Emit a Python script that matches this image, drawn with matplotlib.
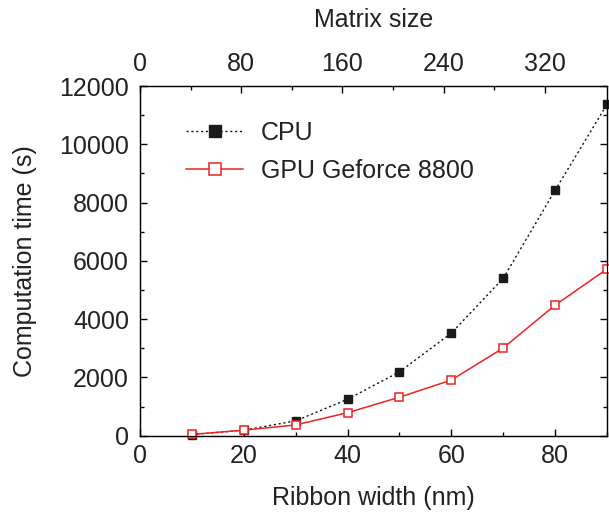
import matplotlib
matplotlib.use("Agg")
import matplotlib.pyplot as plt
from matplotlib.ticker import MultipleLocator, FixedLocator

plt.rcParams["font.family"] = ["Liberation Sans", "DejaVu Sans"]

# Ribbon width (nm) and computation time (s)
RIBBON_WIDTH = [10, 20, 30, 40, 50, 60, 70, 80, 90]
CPU_TIME = [40, 190, 510, 1250, 2190, 3520, 5400, 8420, 11370]
GPU_TIME = [45, 190, 370, 790, 1320, 1910, 3010, 4480, 5720]

TOP_TICKS = [0, 80, 160, 240, 320]
TOP_MINOR = [40, 120, 200, 280]
TOP_MAX = 369

FONT_TICK = 18
FONT_LABEL = 18
TEXT_COLOR = "#222222"

fig = plt.figure(figsize=(6.09, 5.12), dpi=100)
ax = fig.add_axes([0.2299, 0.149, 0.7668, 0.683])

ax.plot(RIBBON_WIDTH, CPU_TIME, color="#111111", linestyle=(0, (1.5, 2)), linewidth=1.0,
        marker="s", markersize=5.5, markerfacecolor="#1a1a1a", markeredgecolor="#1a1a1a",
        label="CPU", clip_on=False, zorder=3)
ax.plot(RIBBON_WIDTH, GPU_TIME, color="#ee2222", linestyle="-", linewidth=1.1,
        marker="s", markersize=5.5, markerfacecolor="white", markeredgecolor="#ee2222",
        markeredgewidth=1.1, label="GPU Geforce 8800", clip_on=False, zorder=3)

ax.set_xlim(0, 90)
ax.set_ylim(0, 12000)
ax.xaxis.set_major_locator(MultipleLocator(20))
ax.xaxis.set_minor_locator(MultipleLocator(10))
ax.yaxis.set_major_locator(MultipleLocator(2000))
ax.yaxis.set_minor_locator(MultipleLocator(1000))
ax.tick_params(which="both", direction="in", right=True, labelsize=FONT_TICK,
               width=1.0, labelcolor=TEXT_COLOR)
ax.tick_params(which="major", length=5)
ax.tick_params(which="minor", length=3)
ax.tick_params(axis="x", pad=6)
ax.tick_params(axis="y", pad=8)
for sp in ax.spines.values():
    sp.set_linewidth(1.0)
    sp.set_color(TEXT_COLOR)

ax.set_xlabel("Ribbon width (nm)", fontsize=FONT_LABEL, labelpad=13, color=TEXT_COLOR)
ax.set_ylabel("Computation time (s)", fontsize=FONT_LABEL, labelpad=16, color=TEXT_COLOR)

top = ax.twiny()
top.set_xlim(0, TOP_MAX)
top.xaxis.set_major_locator(FixedLocator(TOP_TICKS))
top.xaxis.set_minor_locator(FixedLocator(TOP_MINOR))
top.tick_params(which="both", direction="in", labelsize=FONT_TICK, width=1.0,
                pad=7, labelcolor=TEXT_COLOR)
top.tick_params(which="major", length=5)
top.tick_params(which="minor", length=3)
top.set_xlabel("Matrix size", fontsize=FONT_LABEL, labelpad=18, color=TEXT_COLOR)

leg = ax.legend(loc="upper left", bbox_to_anchor=(0.05, 0.965), frameon=False,
                fontsize=FONT_LABEL, handlelength=2.3, handletextpad=0.7,
                labelspacing=0.55, markerscale=1.5)
for t in leg.get_texts():
    t.set_color(TEXT_COLOR)

fig.savefig("out.png", dpi=100)
